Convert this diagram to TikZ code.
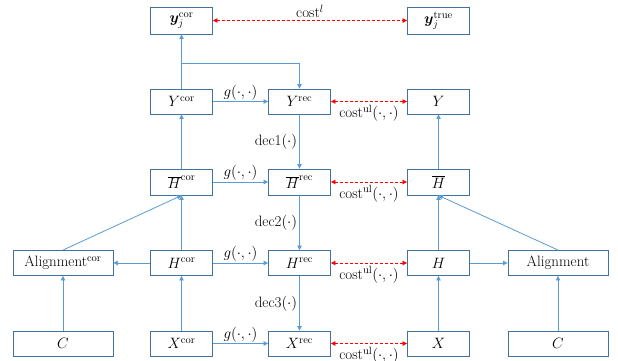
\RequirePackage{fix-cm}
\documentclass[tikz,border=0pt]{standalone}
\usepackage{bm}
\usetikzlibrary{arrows.meta}
\definecolor{boxline}{HTML}{41719C}
\definecolor{arrblue}{HTML}{5B9BD5}
\definecolor{costred}{HTML}{FF0000}
\begin{document}
\begin{tikzpicture}[x=1pt,y=-1pt,
  every node/.style={font=\fontsize{15}{18}\selectfont},
  blk/.style={draw=boxline,line width=0.9pt,fill=white,minimum height=25pt,inner sep=0pt,anchor=center},
  nar/.style={blk,minimum width=62pt},
  wid/.style={blk,minimum width=100pt},
  flow/.style={draw=arrblue,line width=0.8pt,-{Triangle[length=4.5pt,width=4.5pt]}},
  cost/.style={draw=costred,line width=0.8pt,dash pattern=on 3pt off 2pt,{Triangle[length=4.5pt,width=4.5pt]}-{Triangle[length=4.5pt,width=4.5pt]}},
  lab/.style={inner sep=1pt}
]
\useasboundingbox (0,0) rectangle (618,360);
% row 0
\node[nar,minimum height=27pt] (ycj) at (181.5,20.5) {$\bm{y}_j^{\mathrm{cor}}$};
\node[nar,minimum height=27pt] (ytj) at (438.5,20.5) {$\bm{y}_j^{\mathrm{true}}$};
% row 1
\node[nar] (Ycor) at (181.5,101.5) {$Y^{\mathrm{cor}}$};
\node[nar] (Yrec) at (299.5,101.5) {$Y^{\mathrm{rec}}$};
\node[nar] (Y) at (438.5,101.5) {$Y$};
% row 2
\node[nar,minimum height=26pt] (Hbcor) at (181.5,182) {$\overline{H}^{\mathrm{cor}}$};
\node[nar,minimum height=26pt] (Hbrec) at (299.5,182) {$\overline{H}^{\mathrm{rec}}$};
\node[nar,minimum height=26pt] (Hb) at (438.5,182) {$\overline{H}$};
% row 3
\node[wid] (Alcor) at (63,263) {Alignment$^{\mathrm{cor}}$};
\node[nar] (Hcor) at (181.5,263) {$H^{\mathrm{cor}}$};
\node[nar] (Hrec) at (299.5,263) {$H^{\mathrm{rec}}$};
\node[nar] (H) at (438.5,263) {$H$};
\node[wid] (Al) at (558,263) {Alignment};
% row 4
\node[wid] (C1) at (63,343.5) {$C$};
\node[nar] (Xcor) at (181.5,343.5) {$X^{\mathrm{cor}}$};
\node[nar] (Xrec) at (299.5,343.5) {$X^{\mathrm{rec}}$};
\node[nar] (X) at (438.5,343.5) {$X$};
\node[wid] (C2) at (558,343.5) {$C$};
% blue connectors
\coordinate (br) at (181.5,63);
\draw[flow] (Ycor.north) -- (ycj.south);
\draw[flow] (br) -| (Yrec.north);
\draw[flow] (Ycor.east) -- node[lab,above]{$g(\cdot,\cdot)$} (Yrec.west);
\draw[flow] (Yrec.south) -- node[lab,left=1pt]{dec1$(\cdot)$} (Hbrec.north);
\draw[flow] (Hbcor.north) -- (Ycor.south);
\draw[flow] (Hbcor.east) -- node[lab,above]{$g(\cdot,\cdot)$} (Hbrec.west);
\draw[flow] (Hbrec.south) -- node[lab,left=1pt]{dec2$(\cdot)$} (Hrec.north);
\draw[flow] (Hcor.north) -- (Hbcor.south);
\draw[flow] (Alcor.north) -- (Hbcor.south);
\draw[flow] (Hcor.west) -- (Alcor.east);
\draw[flow] (Hcor.east) -- node[lab,above]{$g(\cdot,\cdot)$} (Hrec.west);
\draw[flow] (Hrec.south) -- node[lab,left=1pt]{dec3$(\cdot)$} (Xrec.north);
\draw[flow] (Xcor.north) -- (Hcor.south);
\draw[flow] (Xcor.east) -- node[lab,above]{$g(\cdot,\cdot)$} (Xrec.west);
\draw[flow] (C1.north) -- (Alcor.south);
\draw[flow] (X.north) -- (H.south);
\draw[flow] (H.north) -- (Hb.south);
\draw[flow] (Hb.north) -- (Y.south);
\draw[flow] (H.east) -- (Al.west);
\draw[flow] (Al.north) -- (Hb.south);
\draw[flow] (C2.north) -- (Al.south);
% red cost connectors
\draw[cost] (ycj.east) -- node[lab,above=1pt]{cost$^{l}$} (ytj.west);
\draw[cost] (Yrec.east) -- node[lab,below=2pt]{cost$^{\mathrm{ul}}(\cdot,\cdot)$} (Y.west);
\draw[cost] (Hbrec.east) -- node[lab,below=2pt]{cost$^{\mathrm{ul}}(\cdot,\cdot)$} (Hb.west);
\draw[cost] (Hrec.east) -- node[lab,below=2pt]{cost$^{\mathrm{ul}}(\cdot,\cdot)$} (H.west);
\draw[cost] (Xrec.east) -- node[lab,below=2pt]{cost$^{\mathrm{ul}}(\cdot,\cdot)$} (X.west);
\end{tikzpicture}
\end{document}
